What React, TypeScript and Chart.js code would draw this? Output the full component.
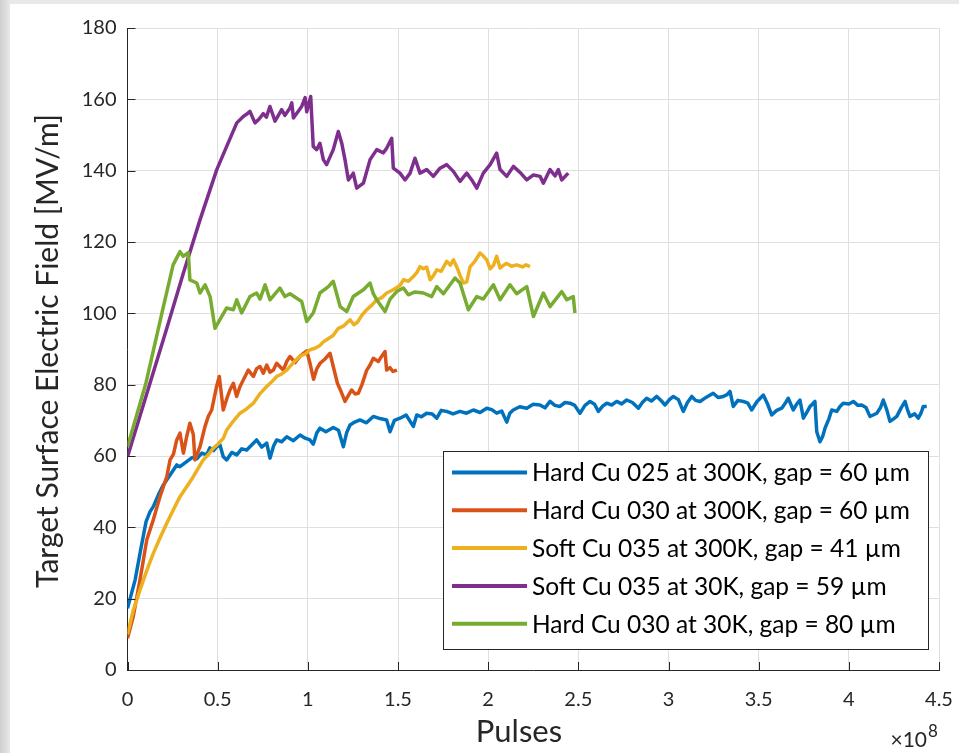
import { useEffect, useRef } from 'react';
import { Chart, registerables } from 'chart.js';

Chart.register(...registerables);

const FONT = 'Lato, "Open Sans", sans-serif';
const INK = '#262626';
const GRID = '#dfdfdf';

// Each point: [pulses (x 1e8), target surface electric field (MV/m)]
const hardCu025At300K: [number, number][] = [
  [0, 17.3], [0.042, 25.2], [0.073, 33.7], [0.103, 41.6], [0.125, 44.4], [0.143, 45.8], [0.171, 49.1],
  [0.199, 51.9], [0.236, 54.7], [0.273, 57.5], [0.291, 57.0], [0.328, 58.4], [0.36, 59.6], [0.384, 59.2],
  [0.412, 60.8], [0.439, 60.3], [0.457, 62.3], [0.477, 61.5], [0.495, 62.6], [0.513, 63.1], [0.531, 59.8],
  [0.55, 58.9], [0.578, 61.0], [0.606, 60.3], [0.633, 62.0], [0.661, 61.7], [0.698, 63.6], [0.716, 64.5],
  [0.744, 62.5], [0.772, 63.6], [0.79, 59.4], [0.81, 62.8], [0.827, 64.5], [0.855, 64.0], [0.883, 65.4],
  [0.92, 64.3], [0.957, 65.9], [0.985, 65.0], [1.012, 64.5], [1.03, 63.3], [1.05, 66.5], [1.067, 67.8],
  [1.1, 66.8], [1.141, 68.0], [1.17, 67.2], [1.197, 62.6], [1.215, 66.5], [1.234, 68.7], [1.26, 69.5],
  [1.289, 70.1], [1.325, 69.3], [1.363, 71.1], [1.4, 70.5], [1.437, 70.1], [1.456, 66.8], [1.48, 70.0],
  [1.511, 70.6], [1.545, 71.5], [1.585, 68.3], [1.604, 71.5], [1.63, 71.0], [1.659, 72.0], [1.69, 71.8],
  [1.715, 70.6], [1.74, 72.8], [1.77, 72.5], [1.805, 71.8], [1.844, 72.5], [1.88, 72.0], [1.918, 72.9],
  [1.955, 72.2], [1.992, 73.4], [2.02, 73.0], [2.047, 72.0], [2.075, 72.6], [2.103, 69.5], [2.12, 72.0],
  [2.139, 72.9], [2.175, 73.8], [2.214, 73.4], [2.25, 74.5], [2.287, 74.3], [2.315, 73.5], [2.343, 75.3],
  [2.37, 74.2], [2.398, 73.9], [2.426, 75.0], [2.454, 74.8], [2.48, 74.2], [2.509, 72.0], [2.537, 74.2],
  [2.565, 75.3], [2.59, 74.5], [2.611, 72.5], [2.635, 74.0], [2.657, 74.8], [2.685, 74.3], [2.713, 75.3],
  [2.74, 74.6], [2.768, 75.7], [2.8, 75.0], [2.833, 73.4], [2.855, 75.0], [2.879, 76.2], [2.905, 75.4],
  [2.935, 76.7], [2.96, 75.5], [2.981, 74.3], [3.005, 75.8], [3.027, 76.7], [3.055, 75.8], [3.082, 72.5],
  [3.105, 75.0], [3.129, 76.7], [3.15, 75.6], [3.175, 75.3], [3.21, 76.5], [3.248, 77.6], [3.275, 76.4],
  [3.304, 76.7], [3.325, 77.2], [3.341, 78.1], [3.359, 73.9], [3.385, 75.6], [3.415, 75.3], [3.44, 74.8],
  [3.461, 72.9], [3.49, 75.2], [3.526, 77.1], [3.55, 74.5], [3.572, 71.5], [3.6, 72.8], [3.628, 73.4],
  [3.65, 75.0], [3.664, 76.2], [3.692, 72.9], [3.71, 74.5], [3.729, 75.7], [3.748, 70.6], [3.77, 72.5],
  [3.785, 73.9], [3.812, 75.3], [3.822, 66.8], [3.84, 64.0], [3.855, 65.5], [3.868, 67.8], [3.89, 70.5],
  [3.905, 72.9], [3.933, 72.5], [3.95, 73.8], [3.969, 74.8], [4.0, 74.6], [4.025, 75.3], [4.05, 74.2],
  [4.071, 74.3], [4.095, 73.6], [4.117, 71.1], [4.135, 71.5], [4.155, 72.0], [4.175, 73.5], [4.191, 75.7],
  [4.21, 73.0], [4.228, 69.7], [4.25, 70.5], [4.266, 71.1], [4.29, 73.5], [4.312, 75.3], [4.325, 73.0],
  [4.339, 71.1], [4.365, 71.8], [4.385, 70.6], [4.4, 72.0], [4.413, 73.9], [4.432, 73.9],
];

const hardCu030At300K: [number, number][] = [
  [0, 8.9], [0.032, 15.0], [0.069, 25.2], [0.107, 36.5], [0.143, 42.1], [0.18, 48.6], [0.218, 54.2],
  [0.236, 58.9], [0.255, 60.5], [0.273, 64.5], [0.291, 66.4], [0.31, 60.8], [0.328, 65.4], [0.346, 69.2],
  [0.365, 66.0], [0.374, 58.9], [0.402, 62.6], [0.43, 68.3], [0.448, 71.1], [0.467, 72.9], [0.494, 79.5],
  [0.509, 82.3], [0.531, 72.9], [0.55, 76.0], [0.568, 78.5], [0.587, 80.4], [0.605, 76.7], [0.624, 79.5],
  [0.642, 81.3], [0.67, 84.1], [0.698, 82.3], [0.716, 84.5], [0.735, 85.1], [0.753, 83.2], [0.772, 85.5],
  [0.79, 83.5], [0.809, 84.1], [0.827, 86.0], [0.846, 85.0], [0.864, 84.1], [0.883, 86.5], [0.901, 87.9],
  [0.93, 86.2], [0.957, 88.0], [0.994, 89.5], [1.012, 86.0], [1.032, 81.5], [1.05, 84.5], [1.068, 86.0],
  [1.095, 87.2], [1.123, 88.8], [1.141, 85.1], [1.164, 80.4], [1.185, 78.0], [1.206, 75.3], [1.225, 77.0],
  [1.243, 78.5], [1.262, 77.4], [1.28, 77.6], [1.3, 80.0], [1.326, 84.0], [1.345, 85.5], [1.363, 87.4],
  [1.391, 86.5], [1.41, 88.0], [1.428, 89.3], [1.437, 84.1], [1.455, 84.8], [1.472, 83.7], [1.494, 84.1],
];

const softCu035At300K: [number, number][] = [
  [0, 10.0], [0.032, 16.8], [0.06, 21.0], [0.088, 25.2], [0.115, 29.0], [0.143, 32.7], [0.18, 37.0],
  [0.217, 41.1], [0.255, 45.0], [0.291, 48.6], [0.33, 51.5], [0.365, 54.2], [0.395, 56.8], [0.42, 58.9],
  [0.45, 60.5], [0.476, 62.2], [0.505, 63.5], [0.532, 65.0], [0.55, 67.3], [0.587, 69.8], [0.624, 72.0],
  [0.66, 73.2], [0.698, 74.8], [0.735, 77.5], [0.772, 79.5], [0.8, 80.8], [0.827, 82.3], [0.855, 83.0],
  [0.883, 84.1], [0.92, 86.2], [0.957, 88.0], [0.985, 88.6], [1.012, 89.8], [1.04, 90.2], [1.067, 91.0],
  [1.086, 92.0], [1.104, 92.6], [1.14, 93.8], [1.169, 95.8], [1.2, 96.5], [1.234, 98.2], [1.255, 96.8],
  [1.275, 97.5], [1.3, 99.5], [1.326, 101.0], [1.355, 102.3], [1.382, 103.8], [1.41, 104.4], [1.437, 105.7],
  [1.474, 106.6], [1.511, 107.8], [1.53, 109.4], [1.558, 109.0], [1.585, 110.3], [1.605, 111.5],
  [1.622, 113.1], [1.64, 112.5], [1.659, 113.0], [1.678, 109.4], [1.696, 110.5], [1.715, 112.2],
  [1.74, 111.8], [1.77, 114.6], [1.79, 113.5], [1.807, 115.0], [1.826, 113.0], [1.845, 110.5],
  [1.863, 108.5], [1.881, 108.8], [1.9, 113.1], [1.925, 114.5], [1.955, 116.9], [1.975, 116.0],
  [1.992, 115.0], [2.011, 112.5], [2.03, 113.5], [2.047, 116.0], [2.066, 112.7], [2.085, 113.5],
  [2.103, 114.0], [2.13, 113.2], [2.158, 113.6], [2.19, 113.0], [2.21, 113.6], [2.232, 113.1],
];

const softCu035At30K: [number, number][] = [
  [0, 59.8], [0.218, 95.8], [0.31, 111.3], [0.402, 126.2], [0.495, 140.3], [0.55, 146.8], [0.606, 153.4],
  [0.642, 155.2], [0.66, 155.8], [0.679, 156.6], [0.707, 153.4], [0.73, 154.5], [0.753, 156.0],
  [0.77, 155.0], [0.79, 158.0], [0.818, 153.9], [0.855, 157.1], [0.873, 155.5], [0.9, 157.5], [0.911, 159.0],
  [0.92, 154.8], [0.945, 156.5], [0.966, 158.0], [0.985, 160.5], [0.994, 156.5], [1.016, 160.8],
  [1.03, 146.8], [1.049, 145.9], [1.067, 147.7], [1.086, 143.1], [1.104, 141.7], [1.141, 145.9],
  [1.169, 151.0], [1.188, 147.7], [1.206, 143.1], [1.225, 137.4], [1.252, 139.3], [1.271, 135.1],
  [1.308, 136.5], [1.345, 143.1], [1.382, 145.9], [1.419, 145.0], [1.437, 146.3], [1.465, 149.1],
  [1.474, 140.7], [1.511, 139.3], [1.539, 137.4], [1.567, 139.3], [1.594, 143.5], [1.622, 139.3],
  [1.659, 140.3], [1.696, 138.4], [1.733, 140.7], [1.77, 141.7], [1.807, 139.8], [1.844, 137.0],
  [1.881, 139.3], [1.909, 137.4], [1.937, 135.1], [1.973, 139.3], [2.011, 141.7], [2.047, 144.9],
  [2.066, 140.3], [2.103, 138.4], [2.14, 141.2], [2.177, 139.5], [2.214, 137.4], [2.251, 138.8],
  [2.288, 138.4], [2.306, 136.5], [2.343, 140.3], [2.371, 138.5], [2.389, 140.3], [2.408, 137.4],
  [2.444, 139.3],
];

const hardCu030At30K: [number, number][] = [
  [0, 62.6], [0.102, 80.4], [0.199, 101.9], [0.253, 113.6], [0.291, 117.3], [0.309, 116.0], [0.337, 117.0],
  [0.346, 109.4], [0.384, 108.5], [0.402, 105.7], [0.43, 108.0], [0.458, 104.7], [0.485, 95.8],
  [0.522, 99.1], [0.55, 101.5], [0.587, 101.0], [0.606, 103.8], [0.633, 100.1], [0.679, 104.7],
  [0.716, 105.7], [0.735, 104.0], [0.763, 108.0], [0.79, 103.8], [0.845, 107.1], [0.873, 104.7],
  [0.901, 105.5], [0.966, 103.3], [0.994, 97.7], [1.03, 100.1], [1.067, 105.7], [1.114, 107.5],
  [1.141, 109.0], [1.179, 101.9], [1.216, 100.5], [1.252, 104.7], [1.308, 106.6], [1.345, 108.5],
  [1.363, 105.5], [1.382, 103.8], [1.428, 100.5], [1.456, 104.0], [1.493, 106.1], [1.53, 107.1],
  [1.557, 105.2], [1.594, 106.0], [1.641, 105.7], [1.687, 104.7], [1.715, 107.5], [1.752, 105.5],
  [1.816, 109.9], [1.844, 108.5], [1.89, 101.0], [1.937, 104.7], [1.973, 104.0], [2.029, 108.0],
  [2.066, 103.8], [2.121, 108.0], [2.158, 105.5], [2.214, 107.5], [2.251, 99.1], [2.306, 105.7],
  [2.343, 101.9], [2.408, 106.1], [2.436, 103.8], [2.472, 104.7], [2.481, 100.1],
];

const seriesData = [hardCu025At300K, hardCu030At300K, softCu035At300K, softCu035At30K, hardCu030At30K];

const seriesLabels = [
  'Hard Cu 025 at 300K, gap = 60 µm',
  'Hard Cu 030 at 300K, gap = 60 µm',
  'Soft Cu 035 at 300K, gap = 41 µm',
  'Soft Cu 035 at 30K, gap = 59 µm',
  'Hard Cu 030 at 30K, gap = 80 µm',
];

const seriesColors = ['#0072BD', '#D95319', '#EDB120', '#7E2F8E', '#77AC30'];

const xTickValues = [0, 0.5, 1, 1.5, 2, 2.5, 3, 3.5, 4, 4.5];
const yTickValues = [0, 20, 40, 60, 80, 100, 120, 140, 160, 180];

const xTitle = 'Pulses';
const yTitle = 'Target Surface Electric Field [MV/m]';
const xExponentBase = '×10';
const xExponent = '8';

// Axis decorations, titles and the boxed legend drawn over the plot
const decorPlugin = {
  id: 'decor',
  afterDraw(chart: any) {
    const { ctx, chartArea: a, scales } = chart;
    const xs = scales.x;
    const ys = scales.y;
    ctx.save();

    // inward tick marks
    ctx.strokeStyle = INK;
    ctx.lineWidth = 1;
    ctx.beginPath();
    for (const t of xTickValues) {
      const px = Math.round(xs.getPixelForValue(t)) + 0.5;
      ctx.moveTo(px, a.bottom);
      ctx.lineTo(px, a.bottom - 8);
    }
    for (const t of yTickValues) {
      const py = Math.round(ys.getPixelForValue(t)) + 0.5;
      ctx.moveTo(a.left, py);
      ctx.lineTo(a.left + 8, py);
    }
    ctx.stroke();

    // axis titles
    ctx.fillStyle = INK;
    ctx.textAlign = 'center';
    ctx.textBaseline = 'middle';
    ctx.font = `31px ${FONT}`;
    ctx.fillText(xTitle, 519, 732);
    ctx.font = `30px ${FONT}`;
    ctx.save();
    ctx.translate(48, 351);
    ctx.rotate(-Math.PI / 2);
    ctx.fillText(yTitle, 0, 0);
    ctx.restore();

    // x10^8 multiplier
    ctx.textAlign = 'right';
    ctx.textBaseline = 'alphabetic';
    ctx.font = `21px ${FONT}`;
    ctx.fillText(xExponentBase, 927, 747);
    ctx.textAlign = 'left';
    ctx.font = `17px ${FONT}`;
    ctx.fillText(xExponent, 928, 737);

    // legend
    const lx = 443.5;
    const ly = 451.5;
    const lw = 485;
    const lh = 198;
    ctx.fillStyle = '#ffffff';
    ctx.fillRect(lx, ly, lw, lh);
    ctx.strokeStyle = INK;
    ctx.lineWidth = 1;
    ctx.strokeRect(lx, ly, lw, lh);
    ctx.font = `24.5px ${FONT}`;
    ctx.textAlign = 'left';
    ctx.textBaseline = 'middle';
    chart.data.datasets.forEach((ds: any, i: number) => {
      const y = 472.5 + i * 37.8;
      ctx.strokeStyle = ds.borderColor;
      ctx.lineWidth = 4;
      ctx.beginPath();
      ctx.moveTo(452, y);
      ctx.lineTo(527, y);
      ctx.stroke();
      ctx.fillStyle = '#000000';
      ctx.fillText(ds.label, 532, y + 1);
    });

    ctx.restore();
  },
};

export default function App() {
  const canvasRef = useRef<HTMLCanvasElement>(null);

  useEffect(() => {
    const canvas = canvasRef.current;
    if (!canvas) return;
    const tickFont = { family: FONT, size: 20 };
    const chart = new Chart(canvas, {
      type: 'line',
      data: {
        datasets: seriesData.map((pts, i) => ({
          label: seriesLabels[i],
          data: pts.map(([x, y]) => ({ x, y })),
          borderColor: seriesColors[i],
          backgroundColor: seriesColors[i],
          borderWidth: 3.5,
          pointRadius: 0,
          tension: 0,
          fill: false,
          borderJoinStyle: 'round' as const,
          order: seriesData.length - 1 - i,
        })),
      },
      options: {
        animation: false,
        responsive: false,
        devicePixelRatio: 1,
        events: [],
        layout: { padding: { left: 0, right: 20, top: 28, bottom: 0 } },
        plugins: { legend: { display: false }, tooltip: { enabled: false } },
        scales: {
          x: {
            type: 'linear',
            min: 0,
            max: 4.5,
            afterBuildTicks: (scale: any) => {
              scale.ticks = xTickValues.map((v) => ({ value: v }));
            },
            ticks: {
              font: tickFont,
              color: INK,
              padding: 18,
              maxRotation: 0,
              autoSkip: false,
              callback: (v: any) => String(v),
            },
            grid: { color: GRID, drawTicks: false },
            border: { color: INK, width: 1 },
            afterFit: (scale: any) => {
              scale.height = 83;
              scale.paddingLeft = 0;
              scale.paddingRight = 0;
            },
          },
          y: {
            type: 'linear',
            min: 0,
            max: 180,
            afterBuildTicks: (scale: any) => {
              scale.ticks = yTickValues.map((v) => ({ value: v }));
            },
            ticks: {
              font: tickFont,
              color: INK,
              padding: 11,
              autoSkip: false,
              callback: (v: any) => String(v),
            },
            grid: { color: GRID, drawTicks: false },
            border: { color: INK, width: 1 },
            afterFit: (scale: any) => {
              scale.width = 127.5;
              scale.paddingTop = 0;
              scale.paddingBottom = 0;
            },
          },
        },
      },
      plugins: [decorPlugin],
    });
    return () => chart.destroy();
  }, []);

  return (
    <div
      style={{
        position: 'fixed',
        left: 0,
        top: 0,
        width: 959,
        height: 753,
        overflow: 'hidden',
        background: 'linear-gradient(90deg, #cfcfcf 0px, #e8e8e8 10px)',
      }}
    >
      <div style={{ position: 'absolute', left: 10, top: 4, right: 0, bottom: 0, background: '#ffffff' }} />
      <canvas ref={canvasRef} width={959} height={753} style={{ position: 'absolute', left: 0, top: 0 }} />
    </div>
  );
}
